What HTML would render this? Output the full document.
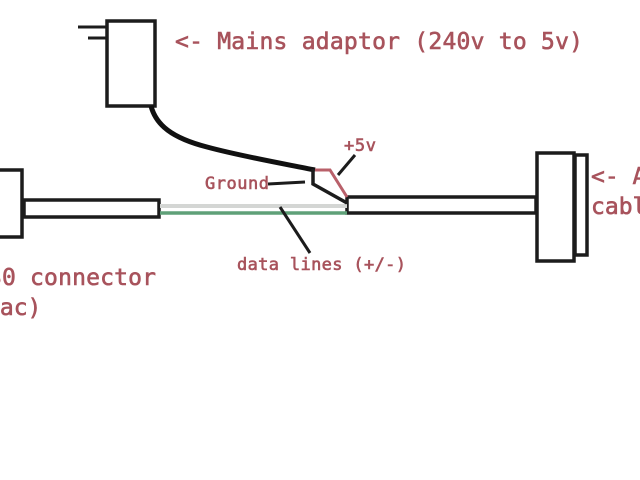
<!DOCTYPE html>
<html><head><meta charset="utf-8"><style>
html,body{margin:0;padding:0;background:#fff;width:640px;height:480px;overflow:hidden}
svg{display:block;filter:blur(.35px)}
text{font-family:"DejaVu Sans Mono","Liberation Mono",monospace;fill:#a8535c;stroke:#a8535c;stroke-width:.6px}
</style></head><body>
<svg width="640" height="480" viewBox="0 0 640 480" xmlns="http://www.w3.org/2000/svg">
<g fill="none" stroke="#1c1c1c" stroke-width="3.5">
<rect x="107" y="21" width="48" height="85"/>
<path d="M78 27H107M88 38H107" stroke-width="3"/>
<rect x="-5" y="170" width="27" height="67"/>
<rect x="24" y="200" width="135" height="17"/>
<rect x="347" y="197" width="189" height="16"/>
<rect x="537" y="153" width="37" height="108"/>
<rect x="575" y="155" width="12" height="100"/>
</g>
<path d="M160 206H347" stroke="#d4d6d4" stroke-width="4"/>
<path d="M160 213H347" stroke="#5fa078" stroke-width="3.5"/>
<path d="M151 106C156 125 172 138 207 147C240 156 280 163 315 170" fill="none" stroke="#111" stroke-width="5"/>
<path d="M315 170H330L347 197" fill="none" stroke="#b9606a" stroke-width="3"/>
<g fill="none" stroke="#1c1c1c" stroke-width="3">
<path d="M313 169V184L347 203" stroke-width="3.5"/>
<path d="M268 184L305 182"/>
<path d="M338 175L355 155"/>
<path d="M280 207L310 253"/>
</g>
<g font-size="23">
<text x="175" y="49" textLength="408" lengthAdjust="spacing">&lt;- Mains adaptor (240v to 5v)</text>
<text x="-12" y="285" textLength="168" lengthAdjust="spacing">30 connector</text>
<text x="-14" y="315">Mac)</text>
<text x="591" y="184">&lt;- A</text>
<text x="591" y="214">cable</text>
</g>
<g font-size="17">
<text x="344" y="151" textLength="32" lengthAdjust="spacing">+5v</text>
<text x="205" y="189" textLength="64" lengthAdjust="spacing">Ground</text>
<text x="237" y="270" textLength="169" lengthAdjust="spacing">data lines (+/-)</text>
</g>
</svg>
</body></html>
